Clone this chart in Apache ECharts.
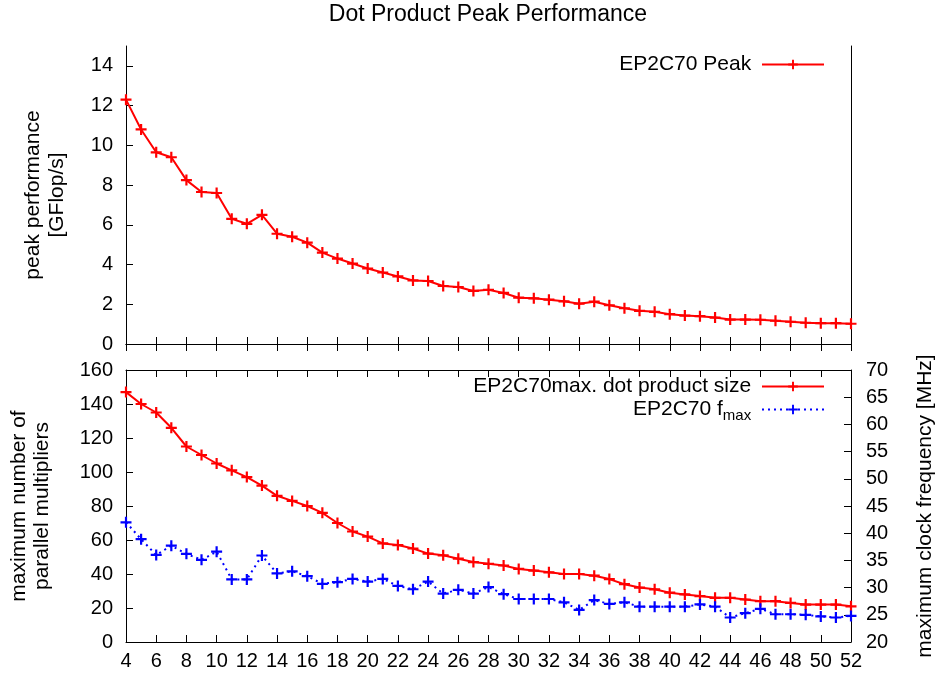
<!DOCTYPE html>
<html><head><meta charset="utf-8">
<script src="https://cdn.jsdelivr.net/npm/echarts@6/dist/echarts.min.js"></script>
<style>html,body{margin:0;padding:0;background:#fff}#c{width:936px;height:677px}</style>
</head><body><div id="c"></div>
<script>
// ---- data ----
const xValues = [4,5,6,7,8,9,10,11,12,13,14,15,16,17,18,19,20,21,22,23,24,25,26,27,28,29,30,31,32,33,34,35,36,37,38,39,40,41,42,43,44,45,46,47,48,49,50,51,52];
const peakGflops = [12.3,10.8,9.65,9.4,8.25,7.65,7.6,6.3,6.05,6.5,5.55,5.4,5.1,4.6,4.3,4.05,3.8,3.6,3.4,3.2,3.17,2.92,2.87,2.67,2.73,2.57,2.33,2.3,2.23,2.15,2.03,2.13,1.95,1.8,1.67,1.62,1.5,1.43,1.4,1.33,1.23,1.23,1.22,1.17,1.12,1.07,1.05,1.05,1.02];
const dotProductSize = [147,140,135,126,115,110,105,101,97,92,86,83,80,76,70,65,62,58,57,55,52,51,49,47,46,45,43,42,41,40,40,39,37,34,32,31,29,28,27,26,26,25,24,24,23,22,22,22,21];
const fmaxMHz = [42.0,38.9,36.0,37.7,36.2,35.1,36.6,31.5,31.5,35.9,32.6,33.0,32.1,30.7,31.0,31.6,31.1,31.6,30.3,29.7,31.1,28.9,29.6,28.9,30.1,28.8,27.9,27.9,27.9,27.3,25.9,27.7,27.0,27.3,26.5,26.5,26.5,26.5,26.9,26.5,24.5,25.3,26.1,25.1,25.1,25.0,24.7,24.5,24.8];
const titleText = 'Dot Product Peak Performance';
const nameTopLeft = 'peak performance\n[GFlop/s]';
const nameBottomLeft = 'maximum number of\nparallel multipliers';
const nameBottomRight = 'maximum clock frequency [MHz]';
const seriesPeak = 'EP2C70 Peak';
const seriesSize = 'EP2C70max. dot product size';
const seriesFmax = 'EP2C70 f_max';

// ---- chart ----
const FONT = '"Liberation Sans", Arial, Helvetica, sans-serif';
const PLUS = 'path://M4,0H6V10H4Z M0,4H10V6H0Z';
const pairs = (ys) => xValues.map((x, i) => [x, ys[i]]);
const chart = echarts.init(document.getElementById('c'), null, {renderer: 'canvas'});

const lineAx = {show: true, lineStyle: {color: '#000', width: 1}};
const tickIn = {show: true, inside: true, length: 7, lineStyle: {color: '#000', width: 1}};
const lbl = {color: '#000', fontSize: 20, fontFamily: FONT};

function xAx(grid, pos, labels) {
  return {type: 'value', gridIndex: grid, position: pos, min: 4, max: 52, interval: 2,
    axisLine: lineAx, axisTick: tickIn, splitLine: {show: false},
    axisLabel: labels ? Object.assign({margin: 9}, lbl) : {show: false}};
}

const option = {
  animation: false,
  backgroundColor: '#fff',
  grid: [
    {left: 126, right: 85, top: 46, height: 298, containLabel: false},
    {left: 126, right: 85, top: 370, height: 272, containLabel: false}
  ],
  xAxis: [xAx(0, 'bottom', false), xAx(0, 'top', false), xAx(1, 'bottom', true), xAx(1, 'top', false)],
  yAxis: [
    {type: 'value', gridIndex: 0, position: 'left', min: 0, max: 15, interval: 2,
      axisLine: lineAx, axisTick: tickIn, splitLine: {show: false},
      axisLabel: Object.assign({margin: 13, showMaxLabel: false}, lbl)},
    {type: 'value', gridIndex: 0, position: 'right', min: 0, max: 15,
      axisLine: lineAx, axisTick: {show: false}, splitLine: {show: false}, axisLabel: {show: false}},
    {type: 'value', gridIndex: 1, position: 'left', min: 0, max: 160, interval: 20,
      axisLine: lineAx, axisTick: tickIn, splitLine: {show: false},
      axisLabel: Object.assign({margin: 13}, lbl)},
    {type: 'value', gridIndex: 1, position: 'right', min: 20, max: 70, interval: 5,
      axisLine: lineAx, axisTick: tickIn, splitLine: {show: false},
      axisLabel: Object.assign({margin: 15}, lbl)}
  ],
  legend: [
    {data: [seriesPeak], orient: 'vertical', align: 'right', right: 111, top: 54, padding: 0,
      itemWidth: 62, itemHeight: 12, selectedMode: false, formatter: '{name} ',
      textStyle: {color: '#000', fontSize: 21, fontFamily: FONT}},
    {data: [seriesSize, seriesFmax], orient: 'vertical', align: 'right', right: 111, top: 376, padding: 0,
      itemWidth: 62, itemHeight: 12, itemGap: 2, selectedMode: false,
      formatter: function (n) { return n === seriesFmax ? 'EP2C70 f{sub|max} ' : n + ' '; },
      textStyle: {color: '#000', fontSize: 21, fontFamily: FONT,
        rich: {sub: {fontSize: 15, fontFamily: FONT, color: '#000', verticalAlign: 'bottom', lineHeight: 28}}}}
  ],
  graphic: [
    {type: 'text', x: 488, y: 14.5, style: {text: titleText, font: '23px ' + FONT, fill: '#000', align: 'center', verticalAlign: 'middle'}},
    {type: 'text', x: 45, y: 195, rotation: Math.PI / 2, style: {text: nameTopLeft, font: '21px ' + FONT, fill: '#000', align: 'center', verticalAlign: 'middle', lineHeight: 24}},
    {type: 'text', x: 31, y: 506, rotation: Math.PI / 2, style: {text: nameBottomLeft, font: '21px ' + FONT, fill: '#000', align: 'center', verticalAlign: 'middle', lineHeight: 23}},
    {type: 'text', x: 925, y: 506, rotation: Math.PI / 2, style: {text: nameBottomRight, font: '21px ' + FONT, fill: '#000', align: 'center', verticalAlign: 'middle'}}
  ],
  series: [
    {name: seriesPeak, type: 'line', xAxisIndex: 0, yAxisIndex: 0, data: pairs(peakGflops),
      symbol: PLUS, symbolSize: 11, showAllSymbol: true, color: '#ff0000',
      itemStyle: {color: '#ff0000'}, lineStyle: {color: '#ff0000', width: 2}},
    {name: seriesSize, type: 'line', xAxisIndex: 2, yAxisIndex: 2, data: pairs(dotProductSize),
      symbol: PLUS, symbolSize: 11, showAllSymbol: true, color: '#ff0000',
      itemStyle: {color: '#ff0000'}, lineStyle: {color: '#ff0000', width: 2}},
    {name: seriesFmax, type: 'line', xAxisIndex: 2, yAxisIndex: 3, data: pairs(fmaxMHz),
      symbol: PLUS, symbolSize: 11, showAllSymbol: true, color: '#0000ff',
      itemStyle: {color: '#0000ff'}, lineStyle: {color: '#0000ff', width: 2, type: [2, 4]}}
  ]
};
chart.setOption(option);
</script>
</body></html>
